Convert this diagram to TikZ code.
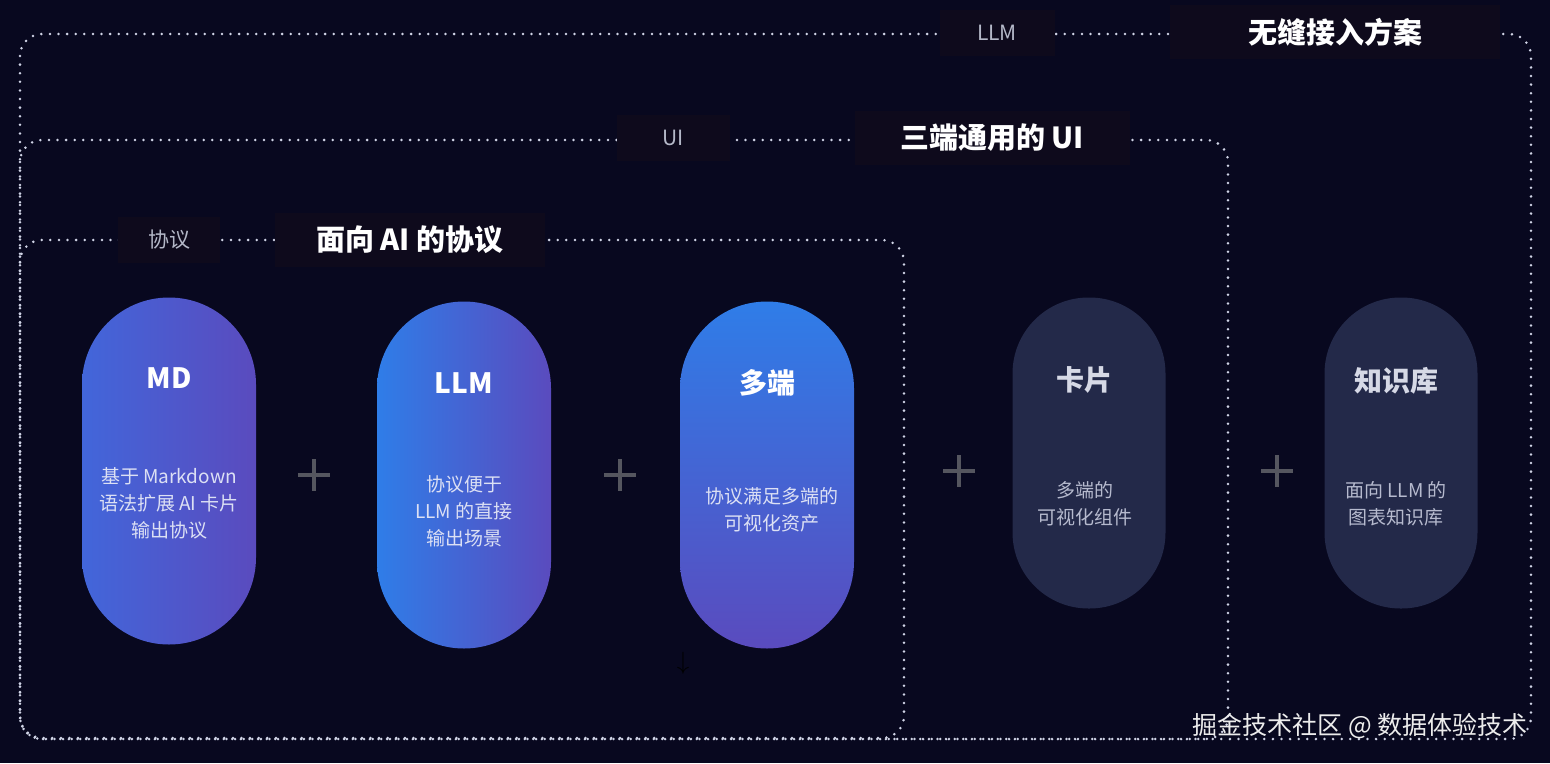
\documentclass[tikz,border=0pt]{standalone}
\usepackage{fontspec}
\setmainfont{Noto Sans CJK SC}
\usetikzlibrary{arrows.meta}
\definecolor{bgc}{HTML}{08081F}
\definecolor{dotc}{HTML}{D0D4E6}
\definecolor{tagbg}{HTML}{0E0A1C}
\definecolor{tagtxt}{HTML}{B4B8C8}
\definecolor{plusc}{HTML}{55565F}
\definecolor{ghostc}{HTML}{232949}
\definecolor{blueA}{HTML}{2F7DE8}
\definecolor{blueB}{HTML}{4266DA}
\definecolor{purpB}{HTML}{5A4BBE}
\definecolor{desct}{HTML}{DCE0F4}
\definecolor{gdesct}{HTML}{B6BACE}
\definecolor{gtitle}{HTML}{D6D9E6}

\begin{document}
\begin{tikzpicture}[x=1pt,y=-1pt,
  frame/.style={draw=dotc,line width=2.8pt,line cap=round,dash pattern=on 0pt off 8.6pt,rounded corners=22pt},
  tag/.style={fill=tagbg,text=tagtxt,font=\fontsize{21}{24}\selectfont,inner sep=0pt,minimum height=46pt},
  headtag/.style={fill=tagbg,text=white,font=\fontsize{29}{32}\selectfont\bfseries,inner sep=0pt,minimum height=54pt},
  pill/.style={rounded corners=87pt,minimum width=174pt,minimum height=347pt,inner sep=0pt},
  ghost/.style={fill=ghostc,rounded corners=76pt,minimum width=153pt,minimum height=311pt,inner sep=0pt},
  ptitle/.style={text=white,font=\fontsize{28}{32}\selectfont\bfseries},
  pdesc/.style={text=desct,font=\fontsize{19}{27}\selectfont,align=center},
  gtitle/.style={ptitle,text=gtitle},
  gdesc/.style={pdesc,text=gdesct},
  plus/.style={draw=plusc,line width=4pt}]
  \fill[bgc] (0,0) rectangle (1550,763);
  \useasboundingbox (0,0) rectangle (1550,763);

  % dotted frames
  \draw[frame] (20,34) rectangle (1531,739);
  \draw[frame] (20,140) rectangle (1228,739);
  \draw[frame] (20,240) rectangle (904,738);

  % frame labels
  \node[tag,minimum width=115pt] (tllm) at (997,33) {LLM};
  \node[headtag,minimum width=330pt] (tseam) at (1335,32) {无缝接入方案};
  \node[tag,minimum width=113pt] (tui) at (673,138) {UI};
  \node[headtag,minimum width=275pt] (tthree) at (992,138) {三端通用的 UI};
  \node[tag,minimum width=102pt] (tproto) at (169,240) {协议};
  \node[headtag,minimum width=270pt] (taiproto) at (410,240) {面向 AI 的协议};

  % pills
  \node[pill,left color=blueB,right color=purpB] (md) at (169,471) {};
  \node[pill,left color=blueA,right color=purpB] (llm) at (464,475) {};
  \node[pill,top color=blueA,bottom color=purpB] (multi) at (767,475) {};
  \node[ghost] (card) at (1089,453) {};
  \node[ghost] (kb) at (1401,453) {};

  \node[ptitle] (mdt) at (169,378) {MD};
  \node[pdesc] (mdd) at (169,503) {基于 Markdown\\语法扩展 AI 卡片\\输出协议};
  \node[ptitle] (llmt) at (464,383) {LLM};
  \node[pdesc] (llmd) at (464,511) {协议便于\\LLM 的直接\\输出场景};
  \node[ptitle] (multit) at (767,383) {多端};
  \node[pdesc] (multid) at (772,510) {协议满足多端的\\可视化资产};
  \node[gtitle] (cardt) at (1084,380) {卡片};
  \node[gdesc] (cardd) at (1085,504) {多端的\\可视化组件};
  \node[gtitle] (kbt) at (1396,381) {知识库};
  \node[gdesc] (kbd) at (1396,504) {面向 LLM 的\\图表知识库};

  % plus signs
  \foreach \px/\py in {314/475,620/475,959/471,1277/471}
    \draw[plus] (\px-16,\py) -- (\px+16,\py) (\px,\py-16) -- (\px,\py+16);

  \node[text=black,font=\fontsize{30}{30}\selectfont] (stray) at (683,663) {$\downarrow$};
  \node[text=white!85!gray,font=\fontsize{25}{27}\selectfont] (mark) at (1360,726) {掘金技术社区 @ 数据体验技术};
\end{tikzpicture}
\end{document}
